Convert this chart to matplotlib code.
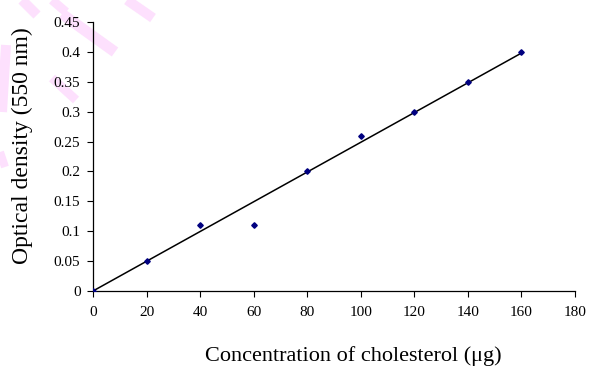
import matplotlib.pyplot as plt
import numpy as np

# datos
concentracion = [0, 20, 40, 60, 80, 100, 120, 140, 160]
densidad = [0.0, 0.05, 0.11, 0.11, 0.20, 0.26, 0.30, 0.35, 0.40]
xticks = [0, 20, 40, 60, 80, 100, 120, 140, 160, 180]
yticks = [0, 0.05, 0.1, 0.15, 0.2, 0.25, 0.3, 0.35, 0.4, 0.45]
ytick_labels = ['0', '0.05', '0.1', '0.15', '0.2', '0.25', '0.3', '0.35', '0.4', '0.45']

plt.rcParams['font.family'] = ['Liberation Serif', 'DejaVu Serif']

W, H = 589, 368
fig = plt.figure(figsize=(W / 100, H / 100), dpi=100)

# marca de agua rosa (decorativa, en pixeles de la imagen)
trazos = [((22, 0), (37, 15), 10), ((52, 0), (66, 12), 9), ((62, 14), (115, 52), 11),
          ((127, 0), (153, 18), 10), ((6, 45), (2, 112), 10), ((52, 78), (76, 100), 9),
          ((0, 152), (5, 167), 8)]
for (x0, y0), (x1, y1), w in trazos:
    fig.add_artist(plt.Line2D([x0 / W, x1 / W], [1 - y0 / H, 1 - y1 / H], color='#fde0fd',
                              lw=w * 0.72, zorder=0, solid_capstyle='butt'))

ax = fig.add_axes([93 / W, 1 - 291 / H, 482 / W, 269 / H])
ax.patch.set_alpha(0)

# linea de tendencia (regresion por el origen)
x = np.array(concentracion, dtype=float)
y = np.array(densidad)
pendiente = np.sum(x * y) / np.sum(x * x)
ax.plot([0, x.max()], [0, pendiente * x.max()], color='black', lw=1.1, zorder=2)
ax.plot(concentracion, densidad, linestyle='none', marker='D', markersize=2.8,
        color='#000080', zorder=3)

ax.set_xlim(0, 180)
ax.set_ylim(0, 0.45)
ax.set_xticks(xticks)
ax.set_yticks(yticks)
ax.set_yticklabels(ytick_labels)
ax.tick_params(direction='out', length=4, width=0.8, labelsize=11)
ax.tick_params(axis='y', pad=5)
ax.tick_params(axis='x', pad=7)
for s in ['top', 'right']:
    ax.spines[s].set_visible(False)
ax.spines['left'].set_linewidth(0.9)
ax.spines['bottom'].set_linewidth(0.9)

ax.set_xlabel('Concentration of cholesterol (μg)', fontsize=16)
ax.set_ylabel('Optical density (550 nm)', fontsize=17)
ax.xaxis.set_label_coords(0.54, -0.203)
ax.yaxis.set_label_coords(-0.125, 0.54)

plt.savefig('out.png', dpi=100)
plt.close()
